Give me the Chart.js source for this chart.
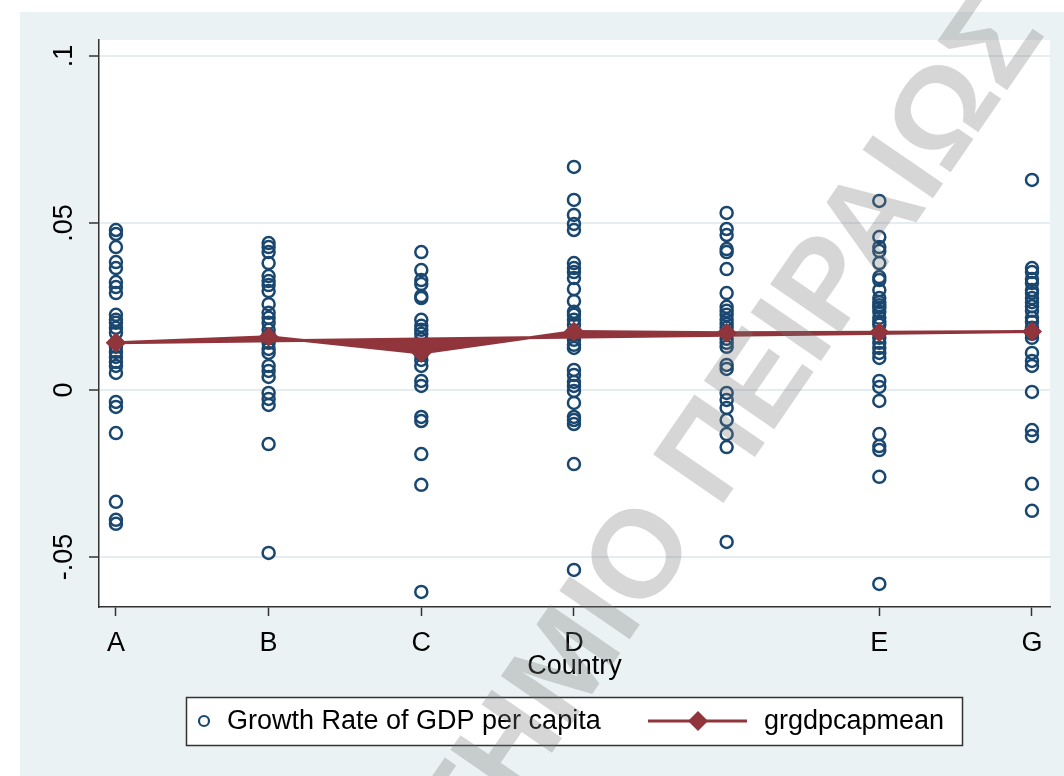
<!DOCTYPE html>
<html>
<head>
<meta charset="utf-8">
<script src="https://cdn.jsdelivr.net/npm/chart.js@4/dist/chart.umd.min.js"></script>
<style>
  html, body { margin: 0; padding: 0; background: #ffffff; }
  #wrap { width: 1064px; height: 776px; position: relative; }
</style>
</head>
<body>
<div id="wrap"><canvas id="c" width="1064" height="776"></canvas></div>
<script>
// Country categories (position 5 carries no label on the axis)
const countryLabels = ['A', 'B', 'C', 'D', '', 'E', 'G'];

// Annual growth rate of GDP per capita, one array per country
const growthA = [0.0479, 0.0467, 0.0428, 0.0383, 0.0365, 0.0323, 0.0308, 0.0290, 0.0225, 0.0210, 0.0201, 0.0186, 0.0171, 0.0141, 0.0129, 0.0114, 0.0099, 0.0084, 0.0072, 0.0051, -0.0036, -0.0051, -0.0129, -0.0335, -0.0389, -0.0401];
const growthB = [0.0440, 0.0428, 0.0413, 0.0380, 0.0341, 0.0326, 0.0314, 0.0296, 0.0257, 0.0231, 0.0216, 0.0201, 0.0180, 0.0165, 0.0156, 0.0141, 0.0123, 0.0111, 0.0072, 0.0057, 0.0039, -0.0009, -0.0027, -0.0045, -0.0162, -0.0488];
const growthC = [0.0413, 0.0359, 0.0329, 0.0317, 0.0281, 0.0275, 0.0210, 0.0192, 0.0180, 0.0168, 0.0153, 0.0120, 0.0105, 0.0090, 0.0072, 0.0027, 0.0012, -0.0081, -0.0093, -0.0192, -0.0284, -0.0605];
const growthD = [0.0668, 0.0569, 0.0524, 0.0497, 0.0479, 0.0380, 0.0365, 0.0353, 0.0335, 0.0302, 0.0266, 0.0234, 0.0225, 0.0210, 0.0195, 0.0165, 0.0150, 0.0135, 0.0126, 0.0060, 0.0045, 0.0024, 0.0012, -0.0003, -0.0039, -0.0081, -0.0090, -0.0102, -0.0222, -0.0539];
const growthF = [0.0530, 0.0482, 0.0464, 0.0422, 0.0413, 0.0362, 0.0290, 0.0249, 0.0237, 0.0225, 0.0210, 0.0198, 0.0186, 0.0171, 0.0153, 0.0141, 0.0129, 0.0075, 0.0063, -0.0009, -0.0030, -0.0054, -0.0090, -0.0132, -0.0171, -0.0455];
const growthE = [0.0566, 0.0458, 0.0428, 0.0416, 0.0380, 0.0338, 0.0329, 0.0299, 0.0275, 0.0263, 0.0254, 0.0246, 0.0234, 0.0216, 0.0204, 0.0195, 0.0171, 0.0156, 0.0141, 0.0126, 0.0111, 0.0096, 0.0027, 0.0009, -0.0033, -0.0132, -0.0168, -0.0180, -0.0260, -0.0581];
const growthG = [0.0629, 0.0365, 0.0353, 0.0332, 0.0320, 0.0299, 0.0290, 0.0275, 0.0263, 0.0251, 0.0237, 0.0216, 0.0204, 0.0186, 0.0168, 0.0156, 0.0111, 0.0087, 0.0072, -0.0006, -0.0120, -0.0138, -0.0281, -0.0362];

// Country means of the growth rate (grgdpcapmean), in category order
const meanGrowth = [0.0141, 0.0159, 0.0111, 0.0175, 0.0171, 0.0173, 0.0175];

// Vertical axis ticks
const yTickValues = [-0.05, 0, 0.05, 0.1];
const yTickLabels = ['-.05', '0', '.05', '.1'];

const FONT = '"Liberation Sans", Arial, Helvetica, sans-serif';
const NAVY = '#1A476F';
const MAROON = '#90353B';
const BG = '#EAF2F3';

const growthByCountry = [growthA, growthB, growthC, growthD, growthF, growthE, growthG];
const scatterPoints = [];
growthByCountry.forEach((vals, i) => {
  vals.forEach(v => scatterPoints.push({ x: i + 1, y: v }));
});

// Mean line follows the categories in order and then returns to the first one
const meanPoints = meanGrowth.map((v, i) => ({ x: i + 1, y: v }));
meanPoints.push({ x: 1, y: meanGrowth[0] });

const backgroundPlugin = {
  id: 'stataBackground',
  beforeDraw(chart) {
    const { ctx, chartArea } = chart;
    ctx.save();
    ctx.fillStyle = '#ffffff';
    ctx.fillRect(0, 0, chart.width, chart.height);
    ctx.fillStyle = BG;
    ctx.fillRect(20, 12, chart.width - 20, chart.height - 12);
    ctx.fillStyle = '#ffffff';
    ctx.fillRect(chartArea.left, chartArea.top, chartArea.right - chartArea.left, chartArea.bottom - chartArea.top);
    ctx.restore();
  }
};

const yLabelPlugin = {
  id: 'rotatedYLabels',
  afterDraw(chart) {
    const { ctx } = chart;
    const ys = chart.scales.y;
    ctx.save();
    ctx.fillStyle = '#000000';
    ctx.font = '27px ' + FONT;
    ctx.textAlign = 'center';
    ctx.textBaseline = 'middle';
    yTickValues.forEach((v, i) => {
      const py = ys.getPixelForValue(v);
      ctx.save();
      ctx.translate(65, py);
      ctx.rotate(-Math.PI / 2);
      ctx.fillText(yTickLabels[i], 0, 0);
      ctx.restore();
    });
    ctx.restore();
  }
};

const legendPlugin = {
  id: 'boxLegend',
  afterDraw(chart) {
    const { ctx } = chart;
    ctx.save();
    ctx.fillStyle = '#ffffff';
    ctx.fillRect(186, 697, 777, 49);
    ctx.strokeStyle = '#333333';
    ctx.lineWidth = 1.5;
    ctx.strokeRect(186.5, 697.5, 776, 48);
    // hollow circle key
    ctx.strokeStyle = NAVY;
    ctx.lineWidth = 2.2;
    ctx.beginPath();
    ctx.arc(204, 721, 5, 0, Math.PI * 2);
    ctx.stroke();
    // line + diamond key
    ctx.strokeStyle = MAROON;
    ctx.lineWidth = 3;
    ctx.beginPath();
    ctx.moveTo(648, 721);
    ctx.lineTo(747, 721);
    ctx.stroke();
    ctx.fillStyle = MAROON;
    ctx.beginPath();
    ctx.moveTo(698, 711);
    ctx.lineTo(708, 721);
    ctx.lineTo(698, 731);
    ctx.lineTo(688, 721);
    ctx.closePath();
    ctx.fill();
    ctx.fillStyle = '#000000';
    ctx.font = '27px ' + FONT;
    ctx.textAlign = 'left';
    ctx.textBaseline = 'middle';
    ctx.fillText('Growth Rate of GDP per capita', 227, 722);
    ctx.fillText('grgdpcapmean', 764, 722);
    ctx.restore();
  }
};

const watermarkPlugin = {
  id: 'watermark',
  afterDraw(chart) {
    const { ctx } = chart;
    ctx.save();
    ctx.fillStyle = 'rgba(120,120,120,0.3)';
    ctx.font = 'bold 124px ' + FONT;
    ctx.textAlign = 'right';
    ctx.textBaseline = 'middle';
    ctx.translate(1018, 14);
    ctx.rotate(-55.5 * Math.PI / 180);
    ctx.fillText('ΠΑΝΕΠΙΣΤΗΜΙΟ ΠΕΙΡΑΙΩΣ', 0, 0);
    ctx.restore();
  }
};

new Chart(document.getElementById('c'), {
  type: 'scatter',
  data: {
    datasets: [
      {
        label: 'Growth Rate of GDP per capita',
        data: scatterPoints,
        order: 2,
        pointStyle: 'circle',
        pointRadius: 6,
        pointBorderWidth: 2.5,
        pointBorderColor: NAVY,
        pointBackgroundColor: 'rgba(0,0,0,0)',
        showLine: false
      },
      {
        label: 'grgdpcapmean',
        data: meanPoints,
        order: 1,
        showLine: true,
        borderColor: MAROON,
        borderWidth: 3,
        backgroundColor: MAROON,
        fill: 'shape',
        tension: 0,
        pointStyle: 'rectRot',
        pointRadius: 10,
        pointBorderWidth: 0,
        pointBackgroundColor: MAROON,
        pointBorderColor: MAROON
      }
    ]
  },
  options: {
    responsive: false,
    animation: false,
    devicePixelRatio: 1,
    layout: { padding: { left: 0, top: 40, right: 14, bottom: 0 } },
    plugins: {
      legend: { display: false },
      tooltip: { enabled: false }
    },
    scales: {
      x: {
        type: 'linear',
        min: 0.889,
        max: 7.118,
        afterBuildTicks(scale) {
          scale.ticks = countryLabels.map((_, i) => ({ value: i + 1 }));
        },
        afterFit(scale) { scale.height = 169; },
        border: { display: true, color: '#333333', width: 1.5 },
        grid: {
          drawOnChartArea: false,
          drawTicks: true,
          tickLength: 9,
          tickWidth: 1.5,
          tickColor: (c) => (c.tick && countryLabels[c.tick.value - 1]) ? '#333333' : 'rgba(0,0,0,0)'
        },
        ticks: {
          padding: 11,
          color: '#000000',
          font: { family: FONT, size: 27 },
          maxRotation: 0,
          minRotation: 0,
          autoSkip: false,
          callback: (v) => countryLabels[Math.round(v) - 1] || ''
        },
        title: {
          display: true,
          text: 'Country',
          color: '#000000',
          font: { family: FONT, size: 27 },
          padding: { top: 0, bottom: 93 }
        }
      },
      y: {
        type: 'linear',
        min: -0.065,
        max: 0.1048,
        afterBuildTicks(scale) {
          scale.ticks = yTickValues.map(v => ({ value: v }));
        },
        afterFit(scale) { scale.width = 99; },
        border: { display: true, color: '#333333', width: 1.5 },
        grid: {
          drawOnChartArea: true,
          color: '#E4EDEF',
          lineWidth: 2,
          drawTicks: true,
          tickLength: 10,
          tickWidth: 1.5,
          tickColor: '#333333'
        },
        ticks: { display: false }
      }
    }
  },
  plugins: [backgroundPlugin, yLabelPlugin, legendPlugin, watermarkPlugin]
});
</script>
</body>
</html>
